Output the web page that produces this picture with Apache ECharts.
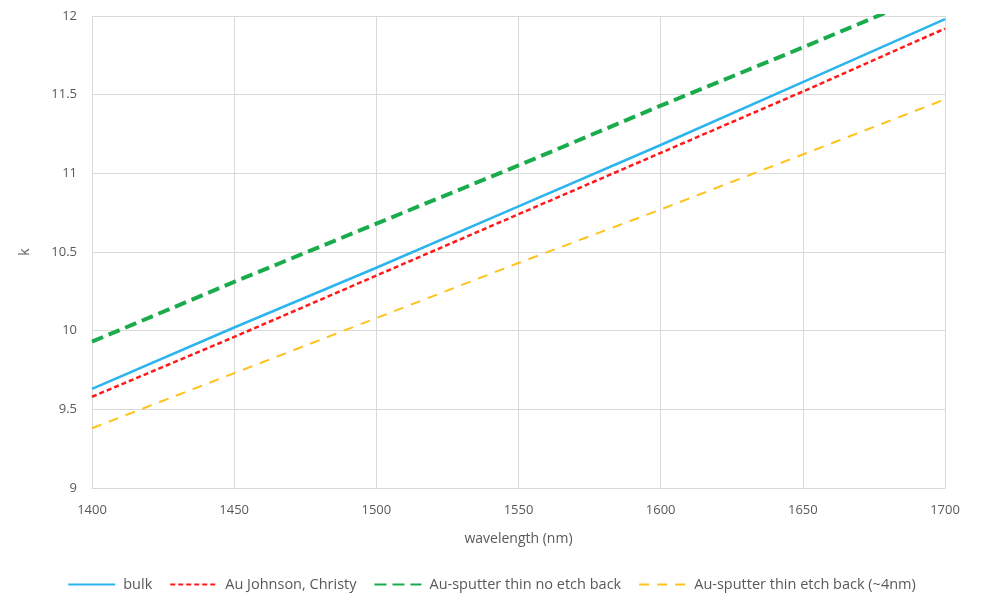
<!DOCTYPE html>
<html><head><meta charset="utf-8">
<script src="https://cdn.jsdelivr.net/npm/echarts@6/dist/echarts.min.js"></script>
<style>html,body{margin:0;padding:0;background:#fff}#c{width:983px;height:597px}</style>
</head><body><div id="c"></div>
<script>
const wavelengths = [1400, 1450, 1500, 1550, 1600, 1650, 1700];
const bulk = [9.63, 10.02, 10.40, 10.79, 11.18, 11.58, 11.98];
const johnsonChristy = [9.58, 9.96, 10.35, 10.74, 11.13, 11.52, 11.92];
const sputterNoEtch = [9.93, 10.31, 10.68, 11.05, 11.43, 11.80, 12.18];
const sputterEtch = [9.38, 9.73, 10.08, 10.43, 10.77, 11.12, 11.47];
const seriesNames = ['bulk', 'Au Johnson, Christy', 'Au-sputter thin no etch back', 'Au-sputter thin etch back (~4nm)'];

const pair = arr => wavelengths.map((w, i) => [w, arr[i]]);
const font = '"Open Sans", "Liberation Sans", sans-serif';
const chart = echarts.init(document.getElementById('c'));
chart.setOption({
  animation: false,
  grid: { left: 92, right: 38, top: 16, bottom: 109 },
  xAxis: {
    type: 'value', min: 1400, max: 1700, interval: 50,
    name: 'wavelength (nm)', nameLocation: 'middle', nameGap: 44,
    nameTextStyle: { color: '#595959', fontSize: 14, fontFamily: font },
    axisLine: { show: true, lineStyle: { color: '#d9d9d9' } },
    axisTick: { show: false },
    axisLabel: { color: '#595959', fontSize: 13, fontFamily: font, margin: 16, formatter: v => String(v) },
    splitLine: { show: true, lineStyle: { color: '#d9d9d9' } }
  },
  yAxis: {
    type: 'value', min: 9, max: 12, interval: 0.5,
    name: 'k', nameLocation: 'middle', nameGap: 60, nameRotate: 90,
    nameTextStyle: { color: '#595959', fontSize: 14, fontFamily: font },
    axisLine: { show: true, lineStyle: { color: '#d9d9d9' } },
    axisTick: { show: false },
    axisLabel: { color: '#595959', fontSize: 13, fontFamily: font, margin: 15 },
    splitLine: { show: true, lineStyle: { color: '#d9d9d9' } }
  },
  legend: {
    bottom: 0, left: 'center', itemWidth: 47, itemHeight: 10, itemGap: 17,
    textStyle: { color: '#595959', fontSize: 14.5, fontFamily: font, padding: [0, 0, 0, 3] },
    itemStyle: { opacity: 0 },
    data: seriesNames
  },
  series: [
    { name: seriesNames[0], type: 'line', data: pair(bulk), showSymbol: false, symbol: 'none',
      lineStyle: { color: '#2cb5ec', width: 2.5 }, itemStyle: { color: '#2cb5ec' } },
    { name: seriesNames[1], type: 'line', data: pair(johnsonChristy), showSymbol: false, symbol: 'none',
      lineStyle: { color: '#ff1a1a', width: 2.5, type: [5, 3] }, itemStyle: { color: '#ff1a1a' } },
    { name: seriesNames[2], type: 'line', data: pair(sputterNoEtch), showSymbol: false, symbol: 'none', clip: true,
      lineStyle: { color: '#1aac4c', width: 4, type: [12, 6] }, itemStyle: { color: '#1aac4c' } },
    { name: seriesNames[3], type: 'line', data: pair(sputterEtch), showSymbol: false, symbol: 'none',
      lineStyle: { color: '#ffc21a', width: 2, type: [10, 8] }, itemStyle: { color: '#ffc21a' } }
  ]
});
</script></body></html>
